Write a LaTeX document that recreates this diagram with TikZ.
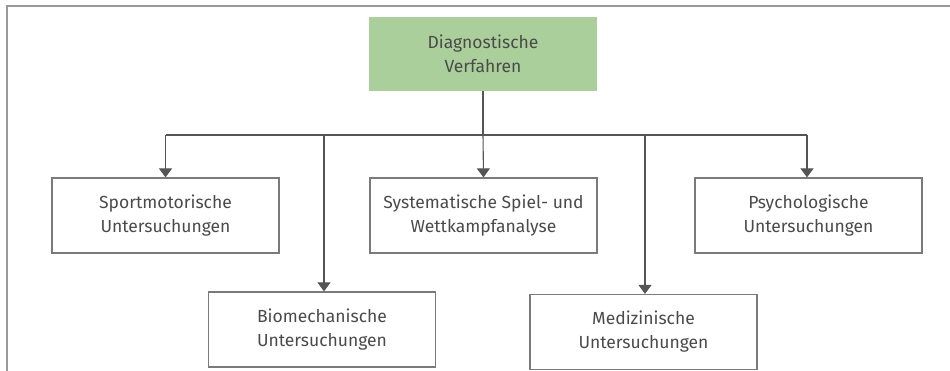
\documentclass[tikz,border=0pt]{standalone}
\usepackage{fontspec}
\setmainfont{Fira Sans}
\usetikzlibrary{arrows.meta}
\definecolor{boxgreen}{HTML}{ABCF9B}
\definecolor{txt}{HTML}{4A4A4A}
\definecolor{ln}{HTML}{555555}
\definecolor{frm}{HTML}{999999}
\definecolor{bord}{HTML}{7A7A7A}
\begin{document}
\begin{tikzpicture}[x=1pt,y=-1pt,
  box/.style={draw=bord,line width=1.2pt,minimum width=227pt,minimum height=75pt,
    inner sep=0pt,align=center,text=txt,font=\fontsize{17.5}{24}\selectfont},
  root/.style={fill=boxgreen,minimum width=228pt,minimum height=74pt,
    inner sep=0pt,align=center,text=txt,font=\fontsize{17.5}{24}\selectfont},
  conn/.style={draw=ln,line width=1.1pt,-{Triangle[width=13pt,length=9pt]}},
  bar/.style={draw=ln,line width=1.1pt}]
\useasboundingbox (0,0) rectangle (950,371);
\draw[frm,line width=2pt] (7.3,371) -- (7.3,6) -- (950,6);
\node[root] (root) at (483,54) {Diagnostische\\Verfahren};
\node[box] (sport) at (165.5,215.5) {Sportmotorische\\Untersuchungen};
\node[box] (sys) at (483.5,215.5) {Systematische Spiel- und\\Wettkampfanalyse};
\node[box] (psy) at (808.5,215.5) {Psychologische\\Untersuchungen};
\node[box] (bio) at (322,329.5) {Biomechanische\\Untersuchungen};
\node[box] (med) at (643.5,332) {Medizinische\\Untersuchungen};
\coordinate (hl) at (165.5,135);
\coordinate (hr) at (807,135);
\coordinate (bt) at (324,135);
\coordinate (mt) at (645,135);
\draw[bar] (root.south) -- (root.south |- hl);
\draw[bar] (hl) -- (hr);
\draw[conn] (hl) -- (sport.north);
\draw[conn] (root.south |- hl) -- (sys.north);
\draw[conn] (hr) -- (psy.north -| hr);
\draw[conn] (bt) -- (bt |- bio.north);
\draw[conn] (mt) -- (mt |- med.north);
\end{tikzpicture}
\end{document}
